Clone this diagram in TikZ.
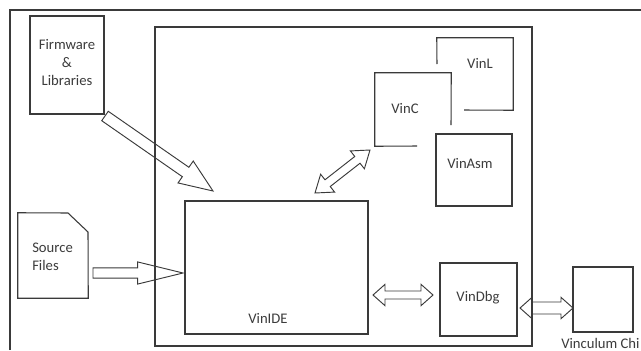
\documentclass[tikz,border=0pt]{standalone}
\usepackage{fontspec}
\setmainfont{Carlito}
\usetikzlibrary{calc,fit}
\definecolor{ln}{HTML}{3A3A3A}
\definecolor{tx}{HTML}{3C3C3C}
\newcommand\blkarrow[5]{%
  \coordinate (hbx) at ($(#2)!#5!(#1)$);
  \draw[arr] ($(#1)!#3!90:(#2)$) -- ($(hbx)!#3!90:(#2)$) -- ($(hbx)!#4!90:(#2)$) -- (#2)
    -- ($(hbx)!#4!-90:(#2)$) -- ($(hbx)!#3!-90:(#2)$) -- ($(#1)!#3!-90:(#2)$) -- cycle;}
\newcommand\dblarrow[5]{%
  \coordinate (hba) at ($(#1)!#5!(#2)$);
  \coordinate (hbb) at ($(#2)!#5!(#1)$);
  \draw[arr] (#1) -- ($(hba)!#4!90:(#2)$) -- ($(hba)!#3!90:(#2)$) -- ($(hbb)!#3!90:(#2)$)
    -- ($(hbb)!#4!90:(#2)$) -- (#2) -- ($(hbb)!#4!-90:(#2)$) -- ($(hbb)!#3!-90:(#2)$)
    -- ($(hba)!#3!-90:(#2)$) -- ($(hba)!#4!-90:(#2)$) -- cycle;}
\begin{document}
\begin{tikzpicture}[x=0.75pt,y=-0.75pt,
  box/.style={draw=ln,line width=0.8pt,inner sep=0pt},
  ghost/.style={inner sep=0pt},
  lnstyle/.style={draw=ln,line width=0.8pt},
  arr/.style={draw=ln,line width=0.7pt,line join=miter},
  txt/.style={text=tx,font=\fontsize{11}{13.5}\selectfont,inner sep=0pt}]
\useasboundingbox[fill=white] (0,0) rectangle (641,350);
% outer frame (open)
\coordinate (ofbl) at (10,350);
\coordinate (oftl) at (10,10);
\coordinate (oftr) at (641,10);
\draw[lnstyle] (ofbl) -- (oftl) -- (oftr);
% main box
\node[box,fit={(155,27) (532,346)}] (main) {};
% firmware
\node[box,fit={(30,16) (104,114)}] (fw) {};
\node[txt,align=center] (fwt) at (67,63) {Firmware\\\&\\Libraries};
% source files
\node[ghost,fit={(18,213) (88,298)}] (src) {};
\draw[lnstyle] (src.north west) -- (68,213) -- (88,232) -- (src.south east) -- (src.south west) -- cycle;
\node[txt,anchor=west,align=left] (srct) at (32,257) {Source\\Files};
% VinL
\node[ghost,fit={(437,38) (513,110)}] (vinl) {};
\draw[lnstyle] (437,64) -- (vinl.north west) -- (vinl.north east) -- (vinl.south east) -- (464,110);
\node[txt] (vinlt) at (480,63) {VinL};
% VinC
\node[ghost,fit={(375,73) (451,146)}] (vinc) {};
\draw[lnstyle] (451,125) -- (vinc.north east) -- (vinc.north west) -- (vinc.south west) -- (417,146);
\node[txt] (vinct) at (405,109) {VinC};
% VinAsm
\node[box,fit={(436,134) (512,206)}] (vinasm) {};
\node[txt] (vinasmt) at (470,164) {VinAsm};
% VinIDE
\node[box,fit={(185,201) (368,334)}] (vinide) {};
\node[txt] (vinidet) at (268,318) {VinIDE};
% VinDbg
\node[box,fit={(440,263) (517,336)}] (vindbg) {};
\node[txt] (vindbgt) at (478,298) {VinDbg};
% Vinculum chip
\node[box,fit={(573,267) (633,332)}] (chip) {};
\node[txt,anchor=west] (chipt) at (561,343) {Vinculum Chi};
% arrow end points
\coordinate (fwA) at (105,116);
\coordinate (fwB) at (213,191);
\coordinate (srcA) at (93,273);
\coordinate (srcB) at (183,273);
\coordinate (icA) at (315,193);
\coordinate (icB) at (370,150);
\coordinate (idA) at (373,295);
\coordinate (idB) at (433,295);
\coordinate (dcA) at (520,308);
\coordinate (dcB) at (573,308);
\blkarrow{fwA}{fwB}{4.3pt}{10pt}{25pt}
\blkarrow{srcA}{srcB}{3.8pt}{8.3pt}{34pt}
\dblarrow{icA}{icB}{3.2pt}{8.5pt}{12pt}
\dblarrow{idA}{idB}{3pt}{8pt}{9pt}
\dblarrow{dcA}{dcB}{4.5pt}{8pt}{9pt}
\end{tikzpicture}
\end{document}
